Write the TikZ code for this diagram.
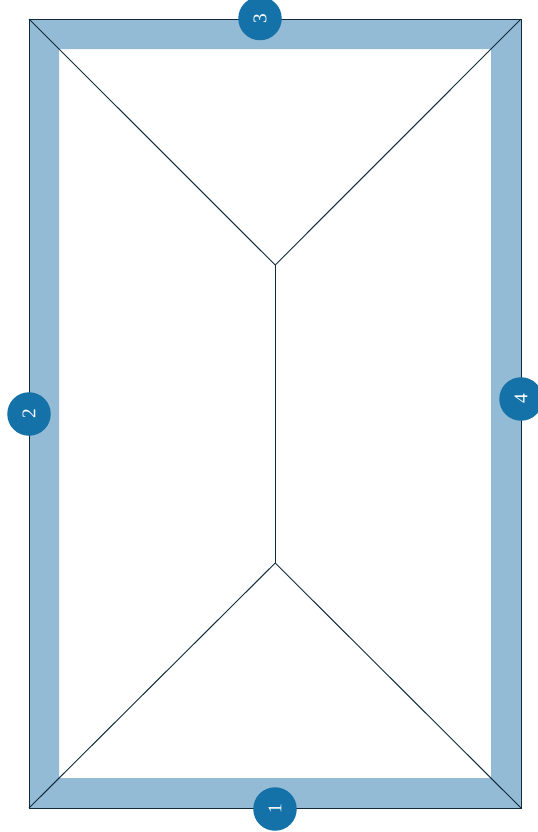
\documentclass[tikz,border=0pt]{standalone}
\usepackage{fontspec}
\setmainfont{Liberation Serif}
\definecolor{bandcol}{HTML}{94BBD5}
\definecolor{badgecol}{HTML}{1572A8}
\definecolor{linecol}{HTML}{0F2B3C}
\tikzset{
  badge/.style={circle, fill=badgecol, text=white, minimum size=0.87cm, inner sep=0pt, font=\fontsize{11}{13}\selectfont, rotate=90},
  roofline/.style={draw=linecol, line width=0.55pt}
}

\begin{document}
\begin{tikzpicture}[x=0.2mm, y=-0.2mm]
 \useasboundingbox (0,0) rectangle (537,832);

 \coordinate (NW) at (29,19);
 \coordinate (NE) at (521,19);
 \coordinate (SE) at (521,808);
 \coordinate (SW) at (29,808);
 \coordinate (RT) at (275.2,265);
 \coordinate (RB) at (275.2,563);

 \fill[bandcol, even odd rule] (NW) rectangle (SE) (59,49) rectangle (491,778);

 \draw[roofline] (NW) -- (NE) -- (SE) -- (SW) -- cycle;
 \draw[roofline] (NW) -- (RT);
 \draw[roofline] (NE) -- (RT);
 \draw[roofline] (RT) -- (RB);
 \draw[roofline] (SW) -- (RB);
 \draw[roofline] (SE) -- (RB);

 \node[badge] (E1) at (275,809) {1};
 \node[badge] (E2) at (29,414) {2};
 \node[badge] (E3) at (260,18.5) {3};
 \node[badge] (E4) at (521,399) {4};
\end{tikzpicture}
\end{document}
